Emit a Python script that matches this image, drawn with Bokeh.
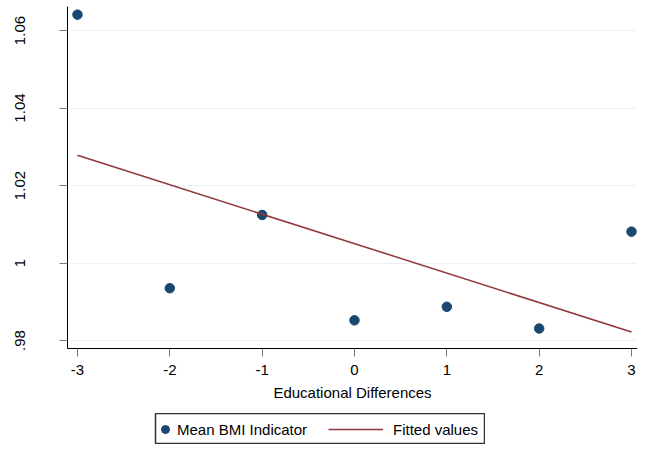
from bokeh.plotting import figure
from bokeh.models import Range1d, FixedTicker, Legend, LegendItem
from bokeh.layouts import column
from bokeh.embed import file_html
from bokeh.resources import INLINE

# Data
edu_diff = [-3, -2, -1, 0, 1, 2, 3]
mean_bmi = [1.0641, 0.9935, 1.0124, 0.9852, 0.9887, 0.9831, 1.0081]
fit_x = [-3, 3]
fit_y = [1.0278, 0.9822]
x_ticks = [-3, -2, -1, 0, 1, 2, 3]
x_tick_labels = ["-3", "-2", "-1", "0", "1", "2", "3"]
y_ticks = [0.98, 1.0, 1.02, 1.04, 1.06]
y_tick_labels = [".98", "1", "1.02", "1.04", "1.06"]
series_names = ["Mean BMI Indicator", "Fitted values"]

FONT = "Liberation Sans"
DOT = "#1a476f"
FIT = "#90353b"

p = figure(frame_width=570, frame_height=342, output_backend="svg", toolbar_location=None,
           x_range=Range1d(-3.108, 3.065), y_range=Range1d(0.97794, 1.0662),
           min_border_left=67, min_border_right=0, min_border_top=6, min_border_bottom=65)
p.outline_line_color = None
p.background_fill_color = "white"
p.border_fill_color = "white"

p.xgrid.grid_line_color = None
p.ygrid.grid_line_color = "#eaf2f3"
p.ygrid.grid_line_width = 1.2

sc = p.scatter(edu_diff, mean_bmi, size=9.5, fill_color=DOT, line_color=DOT, marker="circle")
ln = p.line(fit_x, fit_y, line_color=FIT, line_width=1.5)

# x axis
xa = p.xaxis[0]
xa.ticker = FixedTicker(ticks=x_ticks)
xa.major_label_overrides = {t: s for t, s in zip(x_ticks, x_tick_labels)}
xa.axis_label = "Educational Differences"
xa.axis_label_text_font = FONT
xa.axis_label_text_font_size = "15px"
xa.axis_label_text_font_style = "normal"
xa.axis_label_text_color = "black"
xa.axis_label_standoff = 6
xa.major_label_text_font = FONT
xa.major_label_text_font_size = "15px"
xa.major_label_text_color = "black"
xa.major_label_standoff = 8
xa.major_tick_in = 0
xa.major_tick_out = 8
xa.minor_tick_line_color = None
xa.axis_line_color = "black"
xa.major_tick_line_color = "#7a7a7a"

# y axis
ya = p.yaxis[0]
ya.ticker = FixedTicker(ticks=y_ticks)
ya.major_label_overrides = {t: s for t, s in zip(y_ticks, y_tick_labels)}
ya.major_label_orientation = "vertical"
ya.major_label_text_font = FONT
ya.major_label_text_font_size = "15px"
ya.major_label_text_color = "black"
ya.major_label_standoff = 34
ya.major_tick_in = 0
ya.major_tick_out = 8
ya.minor_tick_line_color = None
ya.axis_line_color = "black"
ya.major_tick_line_color = "#7a7a7a"

# Legend strip, centred under the whole graph as in Stata.
# (column aligns its frames, so this strip gets the same 67px left border)
leg = figure(width=397, height=31, output_backend="svg", toolbar_location=None,
             x_range=Range1d(100, 101), y_range=Range1d(100, 101),
             x_axis_type=None, y_axis_type=None,
             min_border_left=0, min_border_right=0, min_border_top=0, min_border_bottom=0,
             margin=(0, 0, 0, 88))
leg.grid.visible = False
leg.outline_line_color = "#333333"
leg.outline_line_width = 1.5
leg.background_fill_color = "white"
leg.border_fill_color = "white"
# proxies for the legend keys (their data lies outside this strip's ranges)
d1 = leg.scatter(edu_diff, mean_bmi, size=9.5, fill_color=DOT, line_color=DOT, marker="circle")
d2 = leg.line(fit_x, fit_y, line_color=FIT, line_width=1.5)

common = dict(orientation="horizontal", label_text_font=FONT, label_text_font_size="15px",
              label_text_color="black", glyph_height=20, label_height=20,
              padding=0, margin=0, border_line_color=None, background_fill_alpha=0)
leg_a = Legend(items=[LegendItem(label=series_names[0], renderers=[d1], index=0)],
               location=(0, 5), glyph_width=20, label_standoff=2, **common)
leg_b = Legend(items=[LegendItem(label=series_names[1], renderers=[d2], index=0)],
               location=(173, 5), glyph_width=55, label_standoff=10, **common)
leg.add_layout(leg_a, "center")
leg.add_layout(leg_b, "center")

layout = column(p, leg, spacing=0)
open("out.html", "w").write(file_html(layout, INLINE))
